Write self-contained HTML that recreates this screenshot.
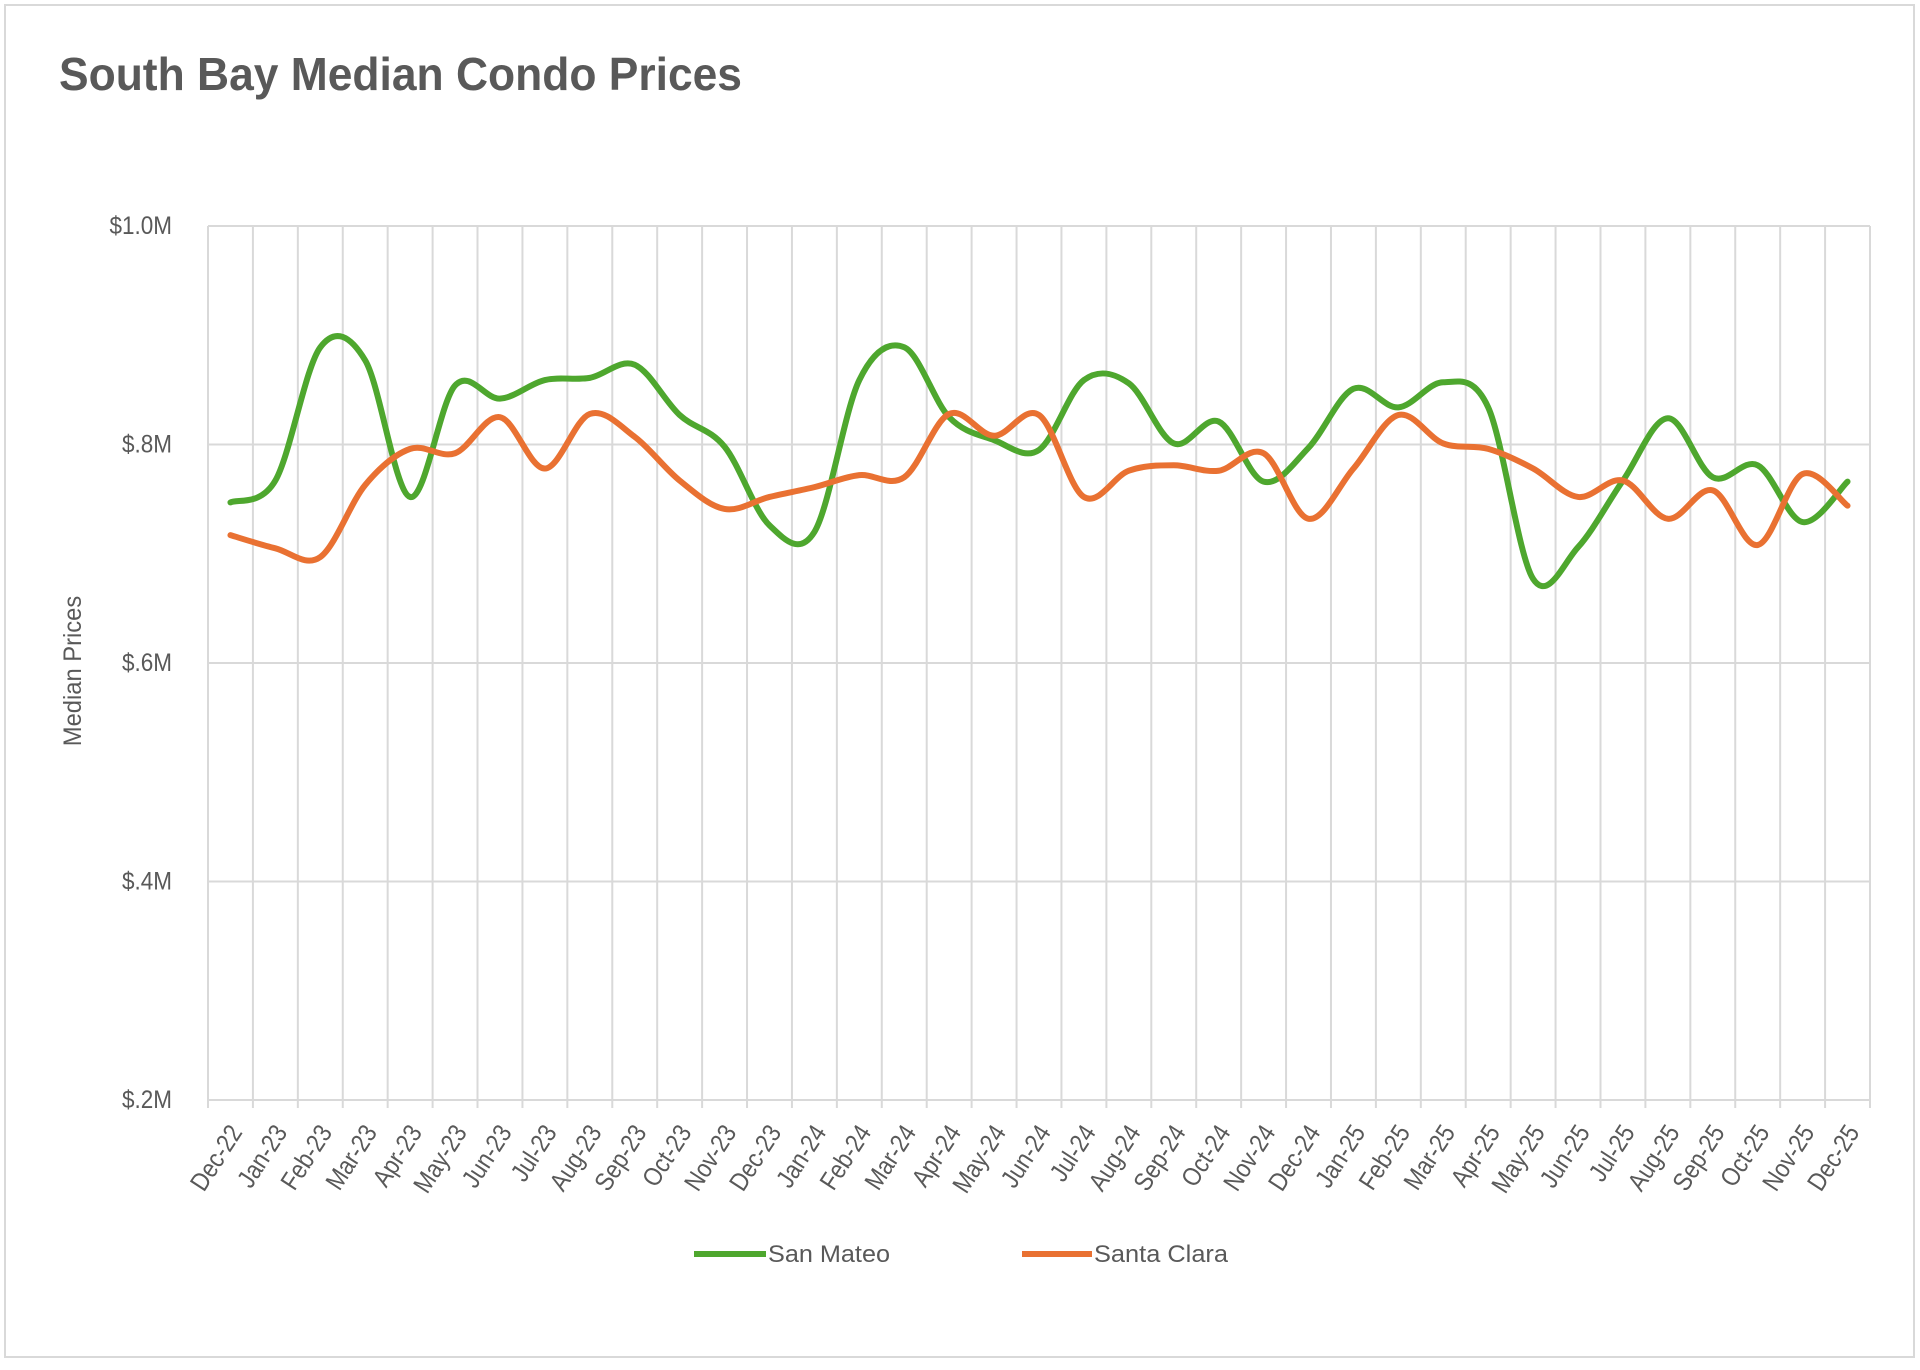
<!DOCTYPE html>
<html><head><meta charset="utf-8"><title>South Bay Median Condo Prices</title>
<style>
html,body{margin:0;padding:0;background:#fff;}
body{width:1920px;height:1365px;overflow:hidden;}
svg text{font-family:"Liberation Sans Narrow","Liberation Sans",Arial,sans-serif;fill:#595959;}
</style></head>
<body>
<svg id="chart" width="1920" height="1365" viewBox="0 0 1920 1365" xmlns="http://www.w3.org/2000/svg">
<rect x="5" y="5" width="1909" height="1352" fill="#fff" stroke="#d9d9d9" stroke-width="2"/>
<text x="59" y="90" font-size="46" font-weight="bold" textLength="683" lengthAdjust="spacingAndGlyphs">South Bay Median Condo Prices</text>
<text transform="translate(81,671) rotate(-90) scale(0.95,1)" text-anchor="middle" font-size="25">Median Prices</text>
<g id="grid"></g>
<g id="ylabels"></g>
<g id="xlabels"></g>
<g id="series"></g>
<g>
  <g>
    <line x1="694" y1="1254" x2="766" y2="1254" stroke="#4ea72e" stroke-width="6"/>
    <text x="768" y="1262" font-size="24" textLength="122" lengthAdjust="spacingAndGlyphs">San Mateo</text>
  </g>
  <g>
    <line x1="1022" y1="1254" x2="1092" y2="1254" stroke="#e97132" stroke-width="6"/>
    <text x="1094" y="1262" font-size="24" textLength="134" lengthAdjust="spacingAndGlyphs">Santa Clara</text>
  </g>
</g>
</svg>
<script>
const categories = ["Dec-22","Jan-23","Feb-23","Mar-23","Apr-23","May-23","Jun-23","Jul-23","Aug-23","Sep-23","Oct-23","Nov-23","Dec-23","Jan-24","Feb-24","Mar-24","Apr-24","May-24","Jun-24","Jul-24","Aug-24","Sep-24","Oct-24","Nov-24","Dec-24","Jan-25","Feb-25","Mar-25","Apr-25","May-25","Jun-25","Jul-25","Aug-25","Sep-25","Oct-25","Nov-25","Dec-25"];
const sanMateo = [0.747,0.767,0.889,0.877,0.752,0.854,0.842,0.859,0.861,0.873,0.827,0.798,0.726,0.72,0.859,0.889,0.825,0.804,0.795,0.859,0.856,0.801,0.821,0.766,0.797,0.851,0.834,0.857,0.834,0.677,0.706,0.767,0.824,0.770,0.781,0.729,0.766];
const santaClara = [0.717,0.705,0.697,0.763,0.796,0.792,0.825,0.778,0.828,0.807,0.767,0.741,0.752,0.761,0.772,0.770,0.828,0.808,0.827,0.752,0.776,0.781,0.776,0.792,0.732,0.778,0.827,0.801,0.796,0.778,0.752,0.767,0.732,0.758,0.708,0.773,0.744];
const yTicks = [0.2,0.4,0.6,0.8,1.0];
const yTickLabels = ["$.2M","$.4M","$.6M","$.8M","$1.0M"];

const NS="http://www.w3.org/2000/svg";
const L=208,R=1870,T=226,B=1100,yMin=0.2,yMax=1.0;
const bw=(R-L)/categories.length;
const xScale=i=>L+bw*(i+0.5);
const yScale=v=>B-(v-yMin)/(yMax-yMin)*(B-T);
function mk(tag,attrs,parent){const e=document.createElementNS(NS,tag);for(const k in attrs)e.setAttribute(k,attrs[k]);parent.appendChild(e);return e;}
const grid=document.getElementById('grid'),yl=document.getElementById('ylabels'),xl=document.getElementById('xlabels'),ser=document.getElementById('series');
yTicks.forEach((t,i)=>{
  const y=yScale(t);
  const ln=mk('line',{x1:L,x2:R,y1:y,y2:y,stroke:'#d9d9d9','stroke-width':2},grid);
  
  
  const tx=mk('text',{x:0,y:0,'text-anchor':'end','font-size':25,transform:`translate(${L-36},${y+8}) scale(0.9,1)`},yl);
  tx.textContent=yTickLabels[i];
  
  
});
for(let k=0;k<=categories.length;k++){
  const x=L+bw*k;
  const ln=mk('line',{x1:x,x2:x,y1:T,y2:B+8,stroke:'#d9d9d9','stroke-width':2},grid);
  
  
}
categories.forEach((c,i)=>{
  const x=xScale(i)+6,y=1128;
  const tx=mk('text',{x:0,y:0,'text-anchor':'end','font-size':26,transform:`translate(${x},${y}) rotate(-57) scale(0.86,1) translate(0,8)`},xl);
  tx.textContent=c;
  
  
});
function smoothPath(vals){
  const p=vals.map((v,i)=>[xScale(i),yScale(v)]);
  let d=`M${p[0][0]},${p[0][1]}`;
  for(let i=0;i<p.length-1;i++){
    const p0=p[i-1]||p[i],p1=p[i],p2=p[i+1],p3=p[i+2]||p[i+1];
    const c1=[p1[0]+(p2[0]-p0[0])/6,p1[1]+(p2[1]-p0[1])/6];
    const c2=[p2[0]-(p3[0]-p1[0])/6,p2[1]-(p3[1]-p1[1])/6];
    d+=` C${c1[0]},${c1[1]} ${c2[0]},${c2[1]} ${p2[0]},${p2[1]}`;
  }
  return d;
}
const gLine=mk('path',{d:smoothPath(sanMateo),fill:'none',stroke:'#4ea72e','stroke-width':6,'stroke-linejoin':'round','stroke-linecap':'round'},ser);


const oLine=mk('path',{d:smoothPath(santaClara),fill:'none',stroke:'#e97132','stroke-width':6,'stroke-linejoin':'round','stroke-linecap':'round'},ser);


</script>
</body></html>
